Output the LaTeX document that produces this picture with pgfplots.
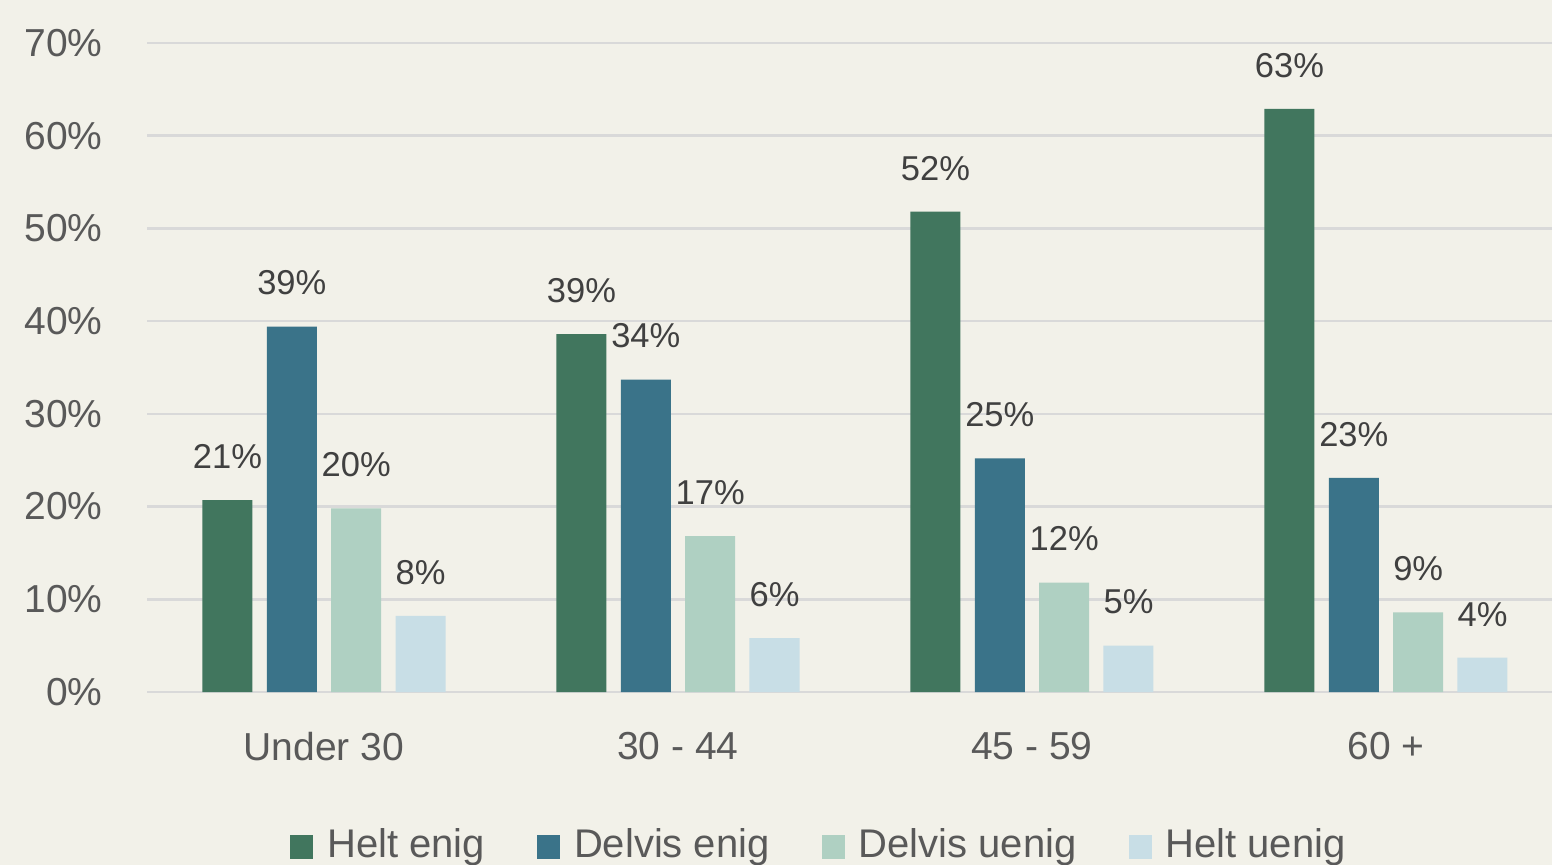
\documentclass[border=0pt]{standalone}
\usepackage{fontspec}
\setmainfont{Liberation Sans}
\usepackage{pgfplots}
\pgfplotsset{compat=1.18}
\definecolor{bg}{HTML}{F2F1E9}
\definecolor{gridc}{HTML}{D9D9D9}
\definecolor{tickc}{HTML}{595959}
\definecolor{labc}{HTML}{404040}
\definecolor{c1}{HTML}{41765E}
\definecolor{c2}{HTML}{3A7389}
\definecolor{c3}{HTML}{AFD0C2}
\definecolor{c4}{HTML}{C8DEE6}
\pgfplotsset{
  mybar/.style={ybar, bar width=25bp, draw=none, bar shift=#1,
    every node near coord/.append style={xshift=#1},
    legend image code/.code={\fill[##1] (0bp,-7bp) rectangle (11.5bp,5bp);}},
}
\begin{document}
\begin{tikzpicture}
\fill[bg] (0,0) rectangle (776bp,432.5bp);
\begin{axis}[
  at={(73.5bp,86.5bp)}, anchor=south west,
  scale only axis, width=702.5bp, height=324.5bp,
  xmin=-0.5, xmax=3.469, ymin=0, ymax=70,
  axis line style={draw=none},
  major tick length=0pt,
  ymajorgrids, grid style={gridc, line width=1.3bp},
  xtick={0,1,2,3},
  xticklabels={Under 30, 30 - 44, 45 - 59, 60 +},
  ytick={0,10,...,70},
  yticklabel={\pgfmathprintnumber{\tick}\%},
  /pgf/number format/assume math mode=true,
  tick label style={font=\fontsize{19.5bp}{22bp}\selectfont, text=tickc},
  yticklabel style={inner sep=0pt, xshift=-22bp},
  xticklabel style={inner sep=0pt, yshift=-20bp},
  nodes near coords={\pgfmathprintnumber[fixed,precision=0]{\pgfplotspointmeta}\%},
  every node near coord/.append style={font=\fontsize{17.25bp}{20bp}\selectfont, text=labc, inner sep=0pt, yshift=15.5bp},
  clip=false,
  legend columns=4,
  legend style={at={(0.1016,-0.2008)}, anchor=north west, draw=none, fill=none, inner sep=0pt,
    font=\fontsize{20bp}{24bp}\selectfont, text=tickc,
    nodes={inner sep=3bp},
    /tikz/every even column/.append style={column sep=23bp},
    /tikz/every odd column/.append style={column sep=4bp}},
]
\addplot[mybar=-48.25bp, fill=c1] coordinates {(0,20.7) (1,38.6) (2,51.8) (3,62.9)};
\addplot[mybar=-16.1bp, fill=c2] coordinates {(0,39.4) (1,33.7) (2,25.2) (3,23.1)};
\addplot[mybar=16.1bp, fill=c3] coordinates {(0,19.8) (1,16.8) (2,11.8) (3,8.6)};
\addplot[mybar=48.25bp, fill=c4] coordinates {(0,8.2) (1,5.8) (2,5.0) (3,3.7)};
\legend{Helt enig, Delvis enig, Delvis uenig, Helt uenig}
\end{axis}
\pgfresetboundingbox
\path[use as bounding box] (0,0) rectangle (776bp,432.5bp);
\end{tikzpicture}
\end{document}
